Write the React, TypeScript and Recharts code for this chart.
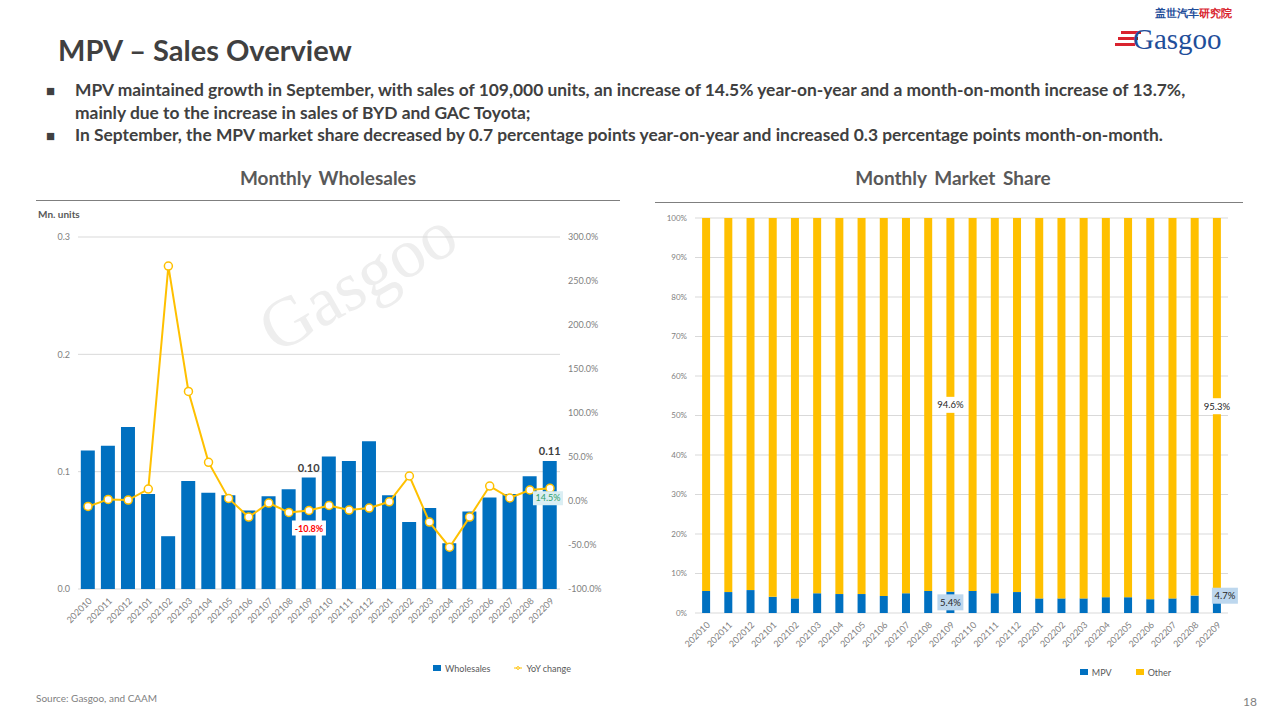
import {
  ComposedChart,
  BarChart,
  Bar,
  Line,
  XAxis,
  YAxis,
  CartesianGrid,
  Legend,
  LabelList,
} from "recharts";

const months = [
  "202010", "202011", "202012",
  "202101", "202102", "202103", "202104", "202105", "202106",
  "202107", "202108", "202109", "202110", "202111", "202112",
  "202201", "202202", "202203", "202204", "202205", "202206",
  "202207", "202208", "202209",
];

// Mn. units
const wholesales = [
  0.118, 0.122, 0.138, 0.081, 0.045, 0.092, 0.082, 0.080, 0.067, 0.079, 0.085, 0.095,
  0.113, 0.109, 0.126, 0.080, 0.057, 0.069, 0.039, 0.066, 0.078, 0.081, 0.096, 0.109,
];

// YoY change, %
const yoyChange = [
  -6.2, 1.8, 1.1, 13.6, 267, 124.5, 43.9, 2.9, -18.3, -2.3, -13.0, -10.8,
  -5.1, -10.3, -8.0, -0.9, 28.4, -24.0, -52.5, -18.3, 17.0, 3.4, 12.5, 14.5,
];

// market share, %
const mpvShare = [
  5.6, 5.3, 5.8, 4.1, 3.7, 5.0, 4.8, 4.8, 4.3, 5.0, 5.6, 5.4,
  5.6, 5.0, 5.3, 3.7, 3.7, 3.7, 4.0, 4.0, 3.5, 3.7, 4.4, 4.7,
];
const otherShare = [
  94.4, 94.7, 94.2, 95.9, 96.3, 95.0, 95.2, 95.2, 95.7, 95.0, 94.4, 94.6,
  94.4, 95.0, 94.7, 96.3, 96.3, 96.3, 96.0, 96.0, 96.5, 96.3, 95.6, 95.3,
];

const salesTicks = [0, 0.1, 0.2, 0.3];
const yoyTicks = [-100, -50, 0, 50, 100, 150, 200, 250, 300];
const shareTicks = [0, 10, 20, 30, 40, 50, 60, 70, 80, 90, 100];

const labelledMonths = ["202109", "202209"];

const salesData = months.map((m, i) => ({
  month: m,
  Wholesales: wholesales[i],
  "YoY change": yoyChange[i],
}));

const shareData = months.map((m, i) => ({
  month: m,
  MPV: mpvShare[i],
  Other: otherShare[i],
}));

const BLUE = "#0070C0";
const YELLOW = "#FFC000";
const FONT = "Lato, 'Open Sans', sans-serif";
const axisTick = { fontSize: 9, fill: "#7f7f7f", fontFamily: FONT };

const isLabelled = (index: number) => labelledMonths.includes(months[index]);

const salesLabel = (props: any) => {
  const { x, y, width, value, index } = props;
  if (!isLabelled(index)) return null;
  return (
    <text x={x + width / 2} y={y - 6} textAnchor="middle" fontSize={11} fontWeight="bold" fill="#404040" fontFamily={FONT}>
      {(Math.round(value * 100) / 100).toFixed(2)}
    </text>
  );
};

const yoyLabel = (props: any) => {
  const { x, y, value, index } = props;
  if (!isLabelled(index)) return null;
  if (value < 0) {
    return (
      <g>
        <rect x={x - 17} y={y + 10} width={34} height={15} fill="#fff" />
        <text x={x} y={y + 21} textAnchor="middle" fontSize={9} fontWeight="bold" fill="#FF0000" fontFamily={FONT}>
          {value.toFixed(1)}%
        </text>
      </g>
    );
  }
  return (
    <g>
      <rect x={x - 17} y={y + 3} width={30} height={14} fill="#DAEEF3" />
      <text x={x - 2} y={y + 13} textAnchor="middle" fontSize={9} fill="#2E9E6A" fontFamily={FONT}>
        {value.toFixed(1)}%
      </text>
    </g>
  );
};

const otherLabel = (props: any) => {
  const { x, y, width, height, value, index } = props;
  if (!isLabelled(index)) return null;
  const cx = x + width / 2;
  const cy = y + height / 2;
  return (
    <g>
      <rect x={cx - 16} y={cy - 8} width={32} height={16} fill="#fff" />
      <text x={cx} y={cy + 3.5} textAnchor="middle" fontSize={9.5} fill="#262626" fontFamily={FONT}>
        {value.toFixed(1)}%
      </text>
    </g>
  );
};

const mpvLabel = (props: any) => {
  const { x, y, width, height, value, index } = props;
  if (!isLabelled(index)) return null;
  const last = months[index] === "202209";
  const cx = x + width / 2 + (last ? 8 : 0);
  const cy = y + height / 2 - (last ? 8 : 0);
  return (
    <g>
      <rect x={cx - 13} y={cy - 8} width={26} height={16} fill="#BDD7EE" />
      <text x={cx} y={cy + 3.5} textAnchor="middle" fontSize={9.5} fill="#262626" fontFamily={FONT}>
        {value.toFixed(1)}%
      </text>
    </g>
  );
};

const legendText = (value: string) => (
  <span style={{ color: "#595959", fontSize: 9, fontFamily: FONT, marginRight: 14 }}>{value}</span>
);

const abs = (left: number, top: number): React.CSSProperties => ({ position: "absolute", left, top });

export default function App() {
  return (
    <div
      style={{
        position: "absolute",
        left: 0,
        top: 0,
        width: 1280,
        height: 720,
        background: "#fff",
        fontFamily: FONT,
        color: "#404040",
        overflow: "hidden",
      }}
    >
      {/* logo */}
      <div style={{ ...abs(1155, 8), fontSize: 10.5, lineHeight: "11px", fontWeight: "bold" }}>
        <span style={{ color: "#1F4E9A" }}>盖世汽车</span>
        <span style={{ color: "#D9232E" }}>研究院</span>
      </div>
      <div style={{ ...abs(1121, 31), width: 20, height: 3, background: "#D9232E" }} />
      <div style={{ ...abs(1118, 37), width: 20, height: 3, background: "#D9232E" }} />
      <div style={{ ...abs(1115, 43), width: 20, height: 3, background: "#D9232E" }} />
      <div style={{ ...abs(1133, 28), fontFamily: "'Liberation Serif', serif", fontSize: 29, color: "#1F4E9A", lineHeight: "22px" }}>
        Gasgoo
      </div>

      <div style={{ ...abs(58, 32), fontSize: 29, lineHeight: "36px", fontWeight: "bold", color: "#404040" }}>
        MPV – Sales Overview
      </div>

      <div style={{ ...abs(46, 79), fontSize: 17.4, fontWeight: "bold", lineHeight: "22.5px", color: "#404040" }}>
        <div style={{ display: "flex" }}>
          <span style={{ width: 29, fontSize: 15 }}>■</span>
          <span>
            MPV maintained growth in September, with sales of 109,000 units, an increase of 14.5% year-on-year and a
            month-on-month increase of 13.7%,
            <br />
            mainly due to the increase in sales of BYD and GAC Toyota;
          </span>
        </div>
        <div style={{ display: "flex" }}>
          <span style={{ width: 29, fontSize: 15 }}>■</span>
          <span>
            In September, the MPV market share decreased by 0.7 percentage points year-on-year and increased 0.3
            percentage points month-on-month.
          </span>
        </div>
      </div>

      {/* chart titles */}
      <div
        style={{ ...abs(36, 166), width: 584, textAlign: "center", fontSize: 19, wordSpacing: 3, fontWeight: "bold", color: "#595959" }}
      >
        Monthly Wholesales
      </div>
      <div style={{ ...abs(36, 200), width: 584, height: 0, borderTop: "1.5px solid #7f7f7f" }} />
      <div
        style={{ ...abs(655, 166), width: 596, textAlign: "center", fontSize: 19, wordSpacing: 3, fontWeight: "bold", color: "#595959" }}
      >
        Monthly Market Share
      </div>
      <div style={{ ...abs(655, 202), width: 588, height: 0, borderTop: "1.5px solid #7f7f7f" }} />

      <div style={{ ...abs(38, 208), fontSize: 10, fontWeight: "bold", color: "#595959" }}>Mn. units</div>

      {/* watermark */}
      <div
        style={{
          ...abs(245, 300),
          fontFamily: "'Liberation Serif', serif",
          fontSize: 70,
          color: "#eeeeee",
          transform: "rotate(-30deg)",
          transformOrigin: "left top",
        }}
      >
        Gasgoo
      </div>

      <div style={abs(20, 225)}>
        <ComposedChart width={620} height={460} data={salesData} margin={{ top: 12, right: 20, left: 18, bottom: 10 }} barCategoryGap="14%">
          <CartesianGrid yAxisId="left" vertical={false} stroke="#d9d9d9" />
          <XAxis
            dataKey="month"
            interval={0}
            angle={-45}
            textAnchor="end"
            height={67}
            tick={axisTick}
            axisLine={false}
            tickLine={false}
          />
          <YAxis
            yAxisId="left"
            width={40}
            domain={[0, 0.3]}
            ticks={salesTicks}
            tickFormatter={(v: number) => v.toFixed(1)}
            tick={axisTick}
            axisLine={false}
            tickLine={false}
          />
          <YAxis
            yAxisId="right"
            orientation="right"
            width={60}
            domain={[-100, 300]}
            ticks={yoyTicks}
            tickFormatter={(v: number) => `${v.toFixed(1)}%`}
            tick={axisTick}
            axisLine={false}
            tickLine={false}
          />
          <Legend iconSize={8} formatter={legendText} wrapperStyle={{ fontFamily: FONT, paddingLeft: 185 }} />
          <Bar yAxisId="left" dataKey="Wholesales" fill={BLUE} isAnimationActive={false}>
            <LabelList dataKey="Wholesales" content={salesLabel} />
          </Bar>
          <Line
            yAxisId="right"
            dataKey="YoY change"
            stroke={YELLOW}
            strokeWidth={2}
            dot={{ r: 4, fill: "#fff", stroke: YELLOW, strokeWidth: 1.5 }}
            isAnimationActive={false}
          >
            <LabelList dataKey="YoY change" content={yoyLabel} />
          </Line>
        </ComposedChart>
      </div>

      <div style={abs(650, 205)}>
        <BarChart width={610} height={480} data={shareData} margin={{ top: 13, right: 32, left: 5, bottom: 6 }} barCategoryGap="32%">
          <CartesianGrid vertical={false} stroke="#d9d9d9" />
          <XAxis
            dataKey="month"
            interval={0}
            angle={-45}
            textAnchor="end"
            height={47}
            tick={axisTick}
            axisLine={false}
            tickLine={false}
          />
          <YAxis
            width={40}
            domain={[0, 100]}
            ticks={shareTicks}
            tickFormatter={(v: number) => `${v}%`}
            tick={{ ...axisTick, fontSize: 8 }}
            axisLine={false}
            tickLine={false}
          />
          <Legend iconSize={8} formatter={legendText} wrapperStyle={{ fontFamily: FONT, paddingLeft: 196 }} />
          <Bar dataKey="MPV" stackId="share" fill={BLUE} isAnimationActive={false}>
            <LabelList dataKey="MPV" content={mpvLabel} />
          </Bar>
          <Bar dataKey="Other" stackId="share" fill={YELLOW} isAnimationActive={false}>
            <LabelList dataKey="Other" content={otherLabel} />
          </Bar>
        </BarChart>
      </div>

      <div style={{ ...abs(36, 692), fontSize: 10, color: "#7f7f7f" }}>Source: Gasgoo, and CAAM</div>
      <div style={{ ...abs(1243, 694), fontSize: 12, color: "#7f7f7f" }}>18</div>
    </div>
  );
}
